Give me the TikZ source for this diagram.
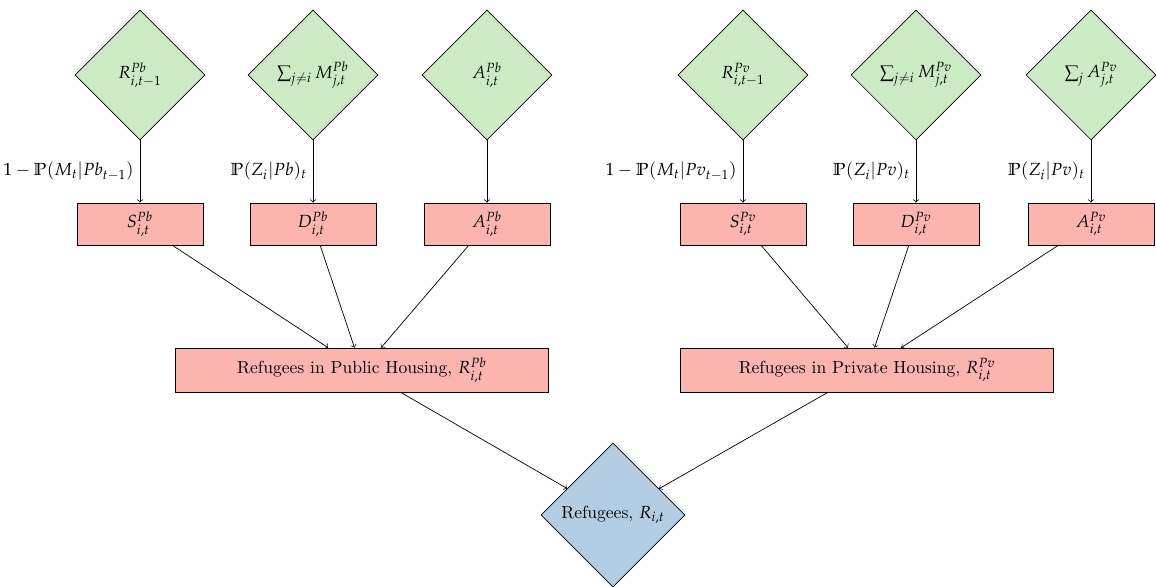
\documentclass[tikz,border=0pt]{standalone}
\usepackage{mathpazo}
\renewcommand{\rmdefault}{lmr}
\usetikzlibrary{shapes.geometric}
\definecolor{pgreen}{RGB}{204,235,197}
\definecolor{pred}{RGB}{251,180,174}
\definecolor{pblue}{RGB}{179,205,227}
\begin{document}
\begin{tikzpicture}[x=0.57pt,y=-0.57pt,
  dia/.style={diamond, draw, fill=pgreen, aspect=1, minimum width=74pt, minimum height=74pt, inner sep=0pt},
  bdia/.style={diamond, draw, fill=pblue, aspect=1, minimum width=82pt, minimum height=82pt, inner sep=0pt},
  sbox/.style={rectangle, draw, fill=pred, minimum width=71.8pt, minimum height=24pt, inner sep=0pt},
  lbox/.style={rectangle, draw, fill=pred, minimum width=213pt, minimum height=25pt, inner sep=0pt},
  arr/.style={->}]
\useasboundingbox (0,0) rectangle (1156,587);
% top diamonds
\node[dia] (r1) at (140,75) {$R^{Pb}_{i,t-1}$};
\node[dia] (r2) at (313,75) {$\sum_{j\neq i} M^{Pb}_{j,t}$};
\node[dia] (r3) at (487,75) {$A^{Pb}_{i,t}$};
\node[dia] (r4) at (743,75) {$R^{Pv}_{i,t-1}$};
\node[dia] (r5) at (916,75) {$\sum_{j\neq i} M^{Pv}_{j,t}$};
\node[dia] (r6) at (1091,75) {$\sum_{j} A^{Pv}_{j,t}$};
% small boxes
\node[sbox] (s1) at (140,224) {$S^{Pb}_{i,t}$};
\node[sbox] (s2) at (313,224) {$D^{Pb}_{i,t}$};
\node[sbox] (s3) at (487,224) {$A^{Pb}_{i,t}$};
\node[sbox] (s4) at (743,224) {$S^{Pv}_{i,t}$};
\node[sbox] (s5) at (916,224) {$D^{Pv}_{i,t}$};
\node[sbox] (s6) at (1091,224) {$A^{Pv}_{i,t}$};
% large boxes
\node[lbox] (pub) at (362,370) {Refugees in Public Housing, $R^{Pb}_{i,t}$};
\node[lbox] (pri) at (867,370) {Refugees in Private Housing, $R^{Pv}_{i,t}$};
% bottom diamond
\node[bdia] (ref) at (613,515) {Refugees, $R_{i,t}$};
% connectors
\draw[arr] (r1) -- node[midway,left] {$1-\mathbb{P}(M_t|Pb_{t-1})$} (s1);
\draw[arr] (r2) -- node[midway,left] {$\mathbb{P}(Z_i|Pb)_t$} (s2);
\draw[arr] (r3) -- (s3);
\draw[arr] (r4) -- node[midway,left] {$1-\mathbb{P}(M_t|Pv_{t-1})$} (s4);
\draw[arr] (r5) -- node[midway,left] {$\mathbb{P}(Z_i|Pv)_t$} (s5);
\draw[arr] (r6) -- node[midway,left] {$\mathbb{P}(Z_i|Pv)_t$} (s6);
\draw[arr] (s1) -- (pub);
\draw[arr] (s2) -- (pub);
\draw[arr] (s3) -- (pub);
\draw[arr] (s4) -- (pri);
\draw[arr] (s5) -- (pri);
\draw[arr] (s6) -- (pri);
\draw[arr] (pub) -- (ref);
\draw[arr] (pri) -- (ref);
\end{tikzpicture}
\end{document}
